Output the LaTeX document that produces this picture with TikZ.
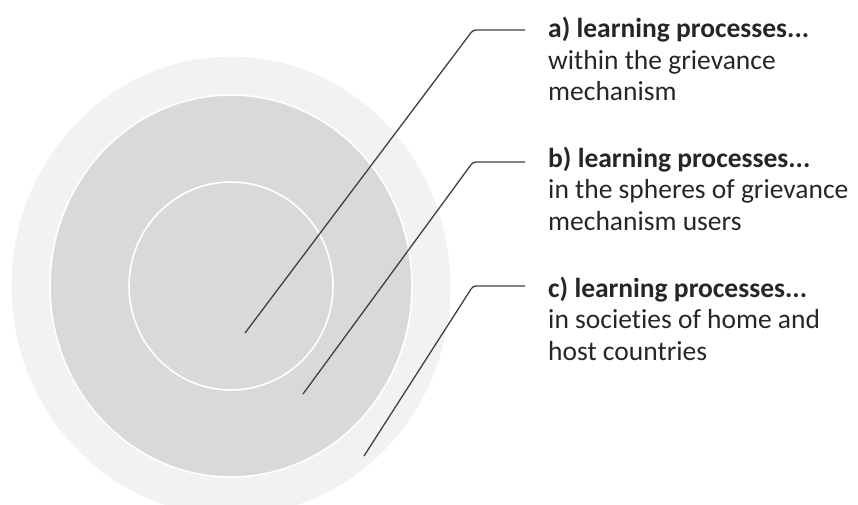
\documentclass[tikz,border=0pt]{standalone}
\usepackage{fontspec}
\setmainfont{Carlito}[Ligatures = NoCommon]

\definecolor{ringlight}{HTML}{F2F2F2}
\definecolor{ringdark}{HTML}{D9D9D9}
\definecolor{leadergray}{HTML}{404040}
\definecolor{textgray}{HTML}{262626}

\begin{document}
\begin{tikzpicture}[x = 1pt, y = -1pt,
	leader/.style = {draw = leadergray, line width = 1.3pt, rounded corners = 3pt},
	sphtext/.style = {anchor = base west, align = left, inner sep = 0pt, text = textgray,
		font = \fontsize{27.5}{31.5}\selectfont}]

	\useasboundingbox (0, 0) rectangle (858, 505);
	\clip (0, 0) rectangle (858, 505);

	% Learning spheres

	\filldraw [fill = ringlight, draw = white, line width = 1pt] (231, 286) ellipse (220 and 230);
	\filldraw [fill = ringdark, draw = white, line width = 1.6pt] (231, 286) ellipse (181 and 191);
	\filldraw [fill = ringdark, draw = white, line width = 1.6pt] (231, 286) ellipse (102 and 104);

	% Sphere descriptions (anchored at the baseline of the last line)

	\node [sphtext] (txtA) at (548, 101) {\textbf{a) learning processes...}\\within the grievance\\mechanism};
	\node [sphtext] (txtB) at (548, 230) {\textbf{b) learning processes...}\\in the spheres of grievance\\mechanism users};
	\node [sphtext] (txtC) at (548, 360) {\textbf{c) learning processes...}\\in societies of home and\\host countries};

	% Leader lines from each sphere to its text

	\coordinate (tipA) at (245, 333);
	\coordinate (tipB) at (303, 394);
	\coordinate (tipC) at (364, 456);

	\coordinate (bendA) at (473, 30);
	\coordinate (bendB) at (473, 162);
	\coordinate (bendC) at (473, 286);

	\draw [leader] (tipA) -- (bendA) -- ([xshift = -23pt] bendA -| txtA.west);
	\draw [leader] (tipB) -- (bendB) -- ([xshift = -23pt] bendB -| txtB.west);
	\draw [leader] (tipC) -- (bendC) -- ([xshift = -23pt] bendC -| txtC.west);

\end{tikzpicture}
\end{document}
